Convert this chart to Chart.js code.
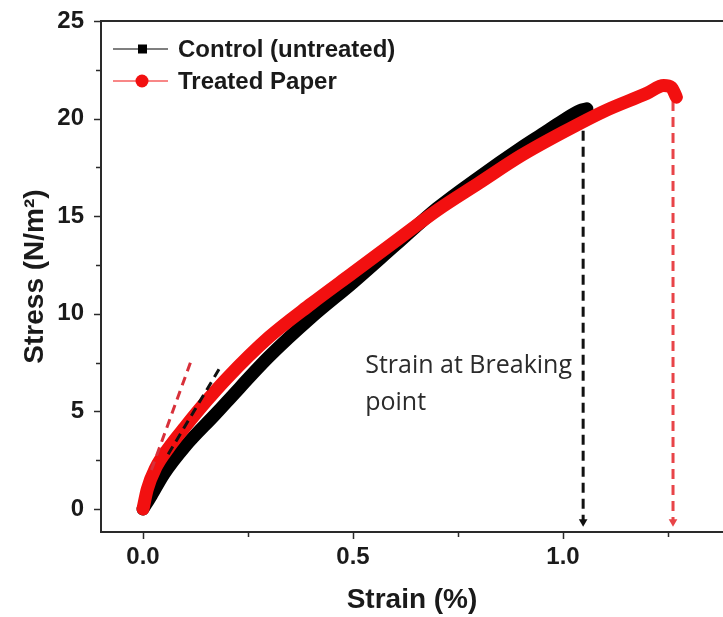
<!DOCTYPE html>
<html>
<head>
<meta charset="utf-8">
<title>Stress vs strain</title>
<script src="https://cdn.jsdelivr.net/npm/chart.js@4.4.1/dist/chart.umd.min.js"></script>
<style>
  html, body { margin: 0; padding: 0; background: #fff; overflow: hidden; }
  canvas { display: block; }
</style>
</head>
<body>
<canvas id="stressChart" width="723" height="617"></canvas>
<script>
// control (untreated) paper
var controlStrain = [0, 0.02, 0.05, 0.1, 0.17, 0.2, 0.3, 0.4, 0.5, 0.6, 0.7, 0.8, 0.9, 0.95, 1.0, 1.04, 1.057];
var controlStress = [0, 0.7, 1.8, 3.2, 4.8, 5.5, 7.8, 9.8, 11.6, 13.5, 15.4, 17.0, 18.5, 19.2, 19.9, 20.4, 20.5];

// treated paper
var treatedStrain = [0, 0.01, 0.03, 0.06, 0.1, 0.15, 0.2, 0.3, 0.4, 0.5, 0.6, 0.7, 0.8, 0.9, 1.0, 1.1, 1.2, 1.24, 1.258, 1.27];
var treatedStress = [0, 1.0, 2.1, 3.1, 4.2, 5.5, 6.7, 8.8, 10.5, 12.1, 13.7, 15.3, 16.7, 18.1, 19.3, 20.4, 21.3, 21.7, 21.6, 21.1];

// dashed tangents at the start of each curve
var controlTangentX = [0.06, 0.185];
var controlTangentY = [2.8, 7.3];
var treatedTangentX = [0.02, 0.113];
var treatedTangentY = [2.0, 7.5];

// strain at breaking point arrows
var controlBreakX = [1.048, 1.048];
var controlBreakY = [20.2, -0.65];
var treatedBreakX = [1.262, 1.262];
var treatedBreakY = [20.9, -0.65];

var xMajorTicks = [0, 0.5, 1.0];
var xMinorTicks = [0.25, 0.75, 1.25];
var yMajorTicks = [0, 5, 10, 15, 20, 25];
var yMinorTicks = [2.5, 7.5, 12.5, 17.5, 22.5];

var noteLines = ["Strain at Breaking", "point"];
var noteAt = {x: 0.529, y: 7.35};

var axisColor = "#2a2a2a";
var textColor = "#1a1a1a";

function toPoints(xs, ys){
    var pts = [];
    for(let i = 0; i < xs.length; i++){
        pts.push({x: xs[i], y: ys[i]});
    }
    return pts;
}

function setTicks(values){
    return function(scale){
        scale.ticks = values.map(v => ({value: v}));
    };
}

// frame top line, tick marks, legend and the note
var decorPlugin = {
    id: "decor",
    afterDraw(chart){
        var ctx = chart.ctx;
        var area = chart.chartArea;
        var xs = chart.scales.x;
        var ys = chart.scales.y;
        ctx.save();
        ctx.strokeStyle = axisColor;
        ctx.lineWidth = 2;
        ctx.beginPath();
        ctx.moveTo(area.left, area.top);
        ctx.lineTo(area.right, area.top);
        ctx.stroke();

        ctx.lineWidth = 1.5;
        function xTick(v, len){
            var px = Math.round(xs.getPixelForValue(v)) + 0.5;
            ctx.beginPath();
            ctx.moveTo(px, area.bottom);
            ctx.lineTo(px, area.bottom + len);
            ctx.stroke();
        }
        function yTick(v, len){
            var py = Math.round(ys.getPixelForValue(v)) + 0.5;
            ctx.beginPath();
            ctx.moveTo(area.left, py);
            ctx.lineTo(area.left - len, py);
            ctx.stroke();
        }
        xMajorTicks.forEach(v => xTick(v, 7));
        xMinorTicks.forEach(v => xTick(v, 5));
        yMajorTicks.forEach(v => yTick(v, 7));
        yMinorTicks.forEach(v => yTick(v, 5));

        // legend
        var rows = [
            {ds: chart.data.datasets[0], y: area.top + 28, shape: "square"},
            {ds: chart.data.datasets[1], y: area.top + 60, shape: "circle"}
        ];
        ctx.font = "bold 24px 'Liberation Sans', Arial, sans-serif";
        ctx.textBaseline = "middle";
        ctx.textAlign = "left";
        rows.forEach(r => {
            var c = r.ds.borderColor;
            ctx.strokeStyle = c;
            ctx.lineWidth = 1.2;
            ctx.beginPath();
            ctx.moveTo(area.left + 12, r.y);
            ctx.lineTo(area.left + 67, r.y);
            ctx.stroke();
            ctx.fillStyle = c;
            if(r.shape == "square"){
                ctx.fillRect(area.left + 37, r.y - 4.5, 9, 9);
            } else {
                ctx.beginPath();
                ctx.arc(area.left + 41, r.y, 6.5, 0, Math.PI * 2);
                ctx.fill();
            }
            ctx.fillStyle = textColor;
            ctx.fillText(r.ds.label, area.left + 77, r.y + 1);
        });

        // note
        ctx.font = "25px 'Open Sans', Lato, sans-serif";
        ctx.fillStyle = "#2b2b2b";
        var nx = xs.getPixelForValue(noteAt.x);
        var ny = ys.getPixelForValue(noteAt.y);
        noteLines.forEach((t, i) => ctx.fillText(t, nx, ny + i * 37));
        ctx.restore();
    }
};

new Chart("stressChart", {
    type: "line",
    data: {
        datasets: [
            {
                label: "Control (untreated)",
                data: toPoints(controlStrain, controlStress),
                borderColor: "#000000",
                borderWidth: 13,
                borderCapStyle: "round",
                borderJoinStyle: "round",
                cubicInterpolationMode: "monotone",
                pointRadius: 0,
                order: 3
            },
            {
                label: "Treated Paper",
                data: toPoints(treatedStrain, treatedStress),
                borderColor: "#f21010",
                borderWidth: 13,
                borderCapStyle: "round",
                borderJoinStyle: "round",
                cubicInterpolationMode: "monotone",
                pointRadius: 0,
                order: 2
            },
            {
                label: "control tangent",
                data: toPoints(controlTangentX, controlTangentY),
                borderColor: "#111111",
                borderWidth: 3,
                borderDash: [9, 6],
                pointRadius: 0,
                order: 1
            },
            {
                label: "treated tangent",
                data: toPoints(treatedTangentX, treatedTangentY),
                borderColor: "#d8303a",
                borderWidth: 3,
                borderDash: [9, 6],
                pointRadius: 0,
                order: 1
            },
            {
                label: "control break",
                data: toPoints(controlBreakX, controlBreakY),
                borderColor: "#111111",
                borderWidth: 3,
                borderDash: [10, 6],
                pointStyle: "triangle",
                rotation: 180,
                pointRadius: [0, 5],
                pointBackgroundColor: "#111111",
                pointBorderWidth: 0,
                order: 4
            },
            {
                label: "treated break",
                data: toPoints(treatedBreakX, treatedBreakY),
                borderColor: "#e84448",
                borderWidth: 3,
                borderDash: [10, 6],
                pointStyle: "triangle",
                rotation: 180,
                pointRadius: [0, 5],
                pointBackgroundColor: "#e84448",
                pointBorderWidth: 0,
                order: 5
            }
        ]
    },
    options: {
        responsive: false,
        animation: false,
        events: [],
        layout: {autoPadding: false, padding: {top: 21, right: 0, bottom: 0, left: 0}},
        plugins: {
            legend: {display: false},
            tooltip: {enabled: false}
        },
        scales: {
            x: {
                type: "linear",
                min: -0.1,
                max: 1.381,
                afterBuildTicks: setTicks(xMajorTicks),
                afterFit: function(scale){
                    scale.height = 85;
                    scale.paddingLeft = 0;
                    scale.paddingRight = 0;
                },
                grid: {display: false},
                border: {display: true, color: axisColor, width: 2},
                ticks: {
                    padding: 3,
                    color: textColor,
                    font: {family: "'Liberation Sans', Arial, sans-serif", size: 24, weight: "bold"},
                    callback: v => v.toFixed(1)
                },
                title: {
                    display: true,
                    text: "Strain (%)",
                    color: textColor,
                    padding: {top: 0, bottom: 0},
                    font: {family: "'Liberation Sans', Arial, sans-serif", size: 28, weight: "bold"}
                }
            },
            y: {
                type: "linear",
                min: -1.18,
                max: 25,
                afterBuildTicks: setTicks(yMajorTicks),
                afterFit: function(scale){
                    scale.width = 101;
                    scale.paddingTop = 0;
                    scale.paddingBottom = 0;
                },
                grid: {display: false},
                border: {display: true, color: axisColor, width: 2},
                ticks: {
                    padding: 9,
                    color: textColor,
                    font: {family: "'Liberation Sans', Arial, sans-serif", size: 24, weight: "bold"},
                    callback: v => String(v)
                },
                title: {
                    display: true,
                    text: "Stress (N/m\u00B2)",
                    color: textColor,
                    padding: {top: 18, bottom: 0},
                    font: {family: "'Liberation Sans', Arial, sans-serif", size: 28, weight: "bold"}
                }
            }
        }
    },
    plugins: [decorPlugin]
});
</script>
</body>
</html>
